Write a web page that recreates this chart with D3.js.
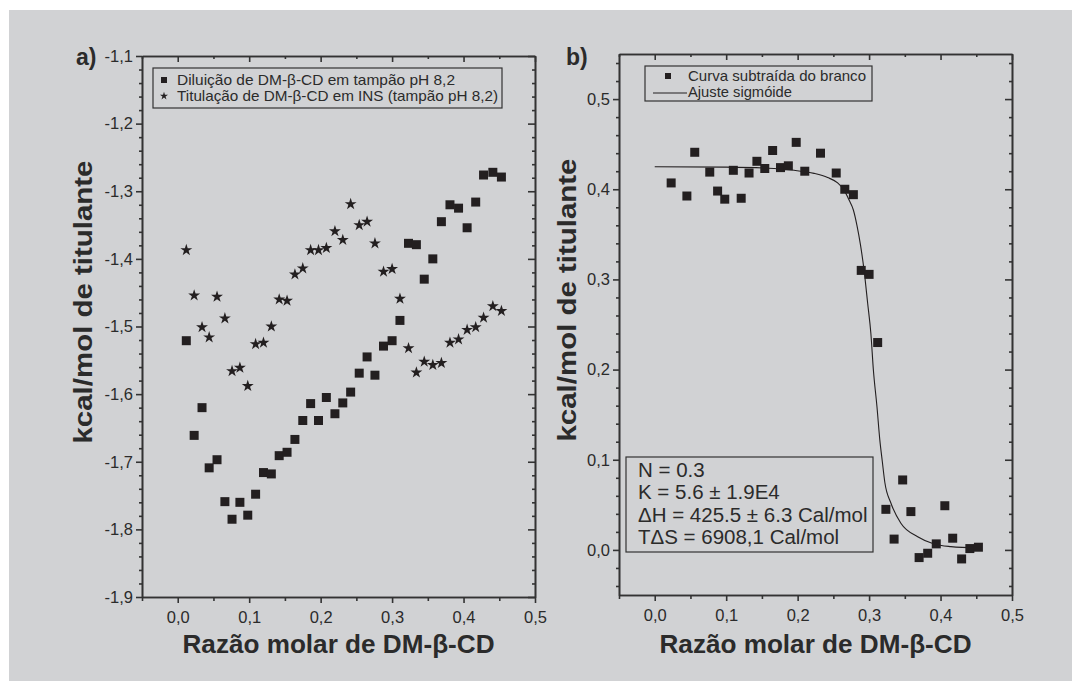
<!DOCTYPE html>
<html>
<head>
<meta charset="utf-8">
<script src="https://cdn.jsdelivr.net/npm/d3@7"></script>
<style>
  body { margin: 0; background: #fff; }
  text { font-family: "Liberation Sans", Arial, sans-serif; fill: #2b2b2b; }
</style>
</head>
<body>
<div id="chart"></div>
<script>
// panel a: razao molar (shared by both series)
var razaoA = [0.012, 0.023, 0.034, 0.044, 0.055, 0.066, 0.076, 0.087, 0.098, 0.109,
  0.120, 0.131, 0.142, 0.153, 0.164, 0.175, 0.186, 0.197, 0.208, 0.220,
  0.231, 0.242, 0.254, 0.265, 0.276, 0.288, 0.300, 0.311, 0.323, 0.334,
  0.345, 0.357, 0.369, 0.381, 0.393, 0.405, 0.417, 0.428, 0.441, 0.453];

var diluicao = [-1.521, -1.661, -1.620, -1.709, -1.697, -1.759, -1.785, -1.760, -1.779, -1.748,
  -1.716, -1.718, -1.691, -1.686, -1.667, -1.639, -1.614, -1.639, -1.605, -1.629,
  -1.613, -1.597, -1.569, -1.545, -1.572, -1.529, -1.521, -1.491, -1.377, -1.379,
  -1.430, -1.400, -1.345, -1.320, -1.325, -1.354, -1.316, -1.276, -1.272, -1.279];

var titulacao = [-1.387, -1.454, -1.501, -1.516, -1.456, -1.488, -1.566, -1.561, -1.588, -1.526,
  -1.524, -1.500, -1.460, -1.462, -1.423, -1.414, -1.387, -1.387, -1.384, -1.359,
  -1.372, -1.319, -1.350, -1.345, -1.377, -1.419, -1.415, -1.459, -1.532, -1.568,
  -1.552, -1.557, -1.554, -1.524, -1.519, -1.505, -1.501, -1.487, -1.470, -1.477];

// panel b
var razaoB = [0.023, 0.045, 0.056, 0.077, 0.088, 0.098, 0.110, 0.121, 0.132, 0.143,
  0.154, 0.165, 0.176, 0.187, 0.198, 0.210, 0.232, 0.254, 0.266, 0.278,
  0.289, 0.300, 0.312, 0.3235, 0.335, 0.347, 0.3585, 0.370, 0.382, 0.394,
  0.406, 0.417, 0.4295, 0.441, 0.453];

var curvaB = [0.407, 0.3925, 0.441, 0.419, 0.398, 0.389, 0.421, 0.390, 0.418, 0.431,
  0.423, 0.443, 0.424, 0.426, 0.452, 0.420, 0.440, 0.418, 0.400, 0.394,
  0.310, 0.3056, 0.230, 0.045, 0.012, 0.0776, 0.0425, -0.0085, -0.0037, 0.0067,
  0.049, 0.013, -0.010, 0.0015, 0.003];

// sigmoid fit
var ajusteX = [0.0, 0.1, 0.167, 0.195, 0.223, 0.242, 0.256, 0.265, 0.272, 0.278,
  0.283, 0.288, 0.293, 0.298, 0.3025, 0.306, 0.311, 0.315, 0.3185, 0.322,
  0.3305, 0.3445, 0.368, 0.391, 0.4145, 0.452];
var ajusteY = [0.425, 0.4245, 0.423, 0.421, 0.4176, 0.413, 0.407, 0.399, 0.388, 0.377,
  0.360, 0.338, 0.310, 0.2735, 0.240, 0.1996, 0.159, 0.122, 0.098, 0.075,
  0.052, 0.0296, 0.0147, 0.0066, 0.0037, 0.0022];

var xTicks = [0, 0.1, 0.2, 0.3, 0.4, 0.5];
var xTickLabels = ['0,0', '0,1', '0,2', '0,3', '0,4', '0,5'];
var yTicksA = [-1.9, -1.8, -1.7, -1.6, -1.5, -1.4, -1.3, -1.2, -1.1];
var yTickLabelsA = ['-1,9', '-1,8', '-1,7', '-1,6', '-1,5', '-1,4', '-1,3', '-1,2', '-1,1'];
var yTicksB = [0, 0.1, 0.2, 0.3, 0.4, 0.5];
var yTickLabelsB = ['0,0', '0,1', '0,2', '0,3', '0,4', '0,5'];

var legendA = ['Diluição  de DM-β-CD em tampão pH 8,2', 'Titulação de DM-β-CD em INS (tampão pH 8,2)'];
var legendB = ['Curva subtraída do branco', 'Ajuste sigmóide'];
var resultados = ['N = 0.3', 'K = 5.6 ± 1.9E4', 'ΔH = 425.5 ± 6.3 Cal/mol', 'TΔS = 6908,1 Cal/mol'];

var W = 1072, H = 681, ink = '#231f20', axisCol = '#333';

var svg = d3.select('#chart').append('svg')
  .attr('width', W).attr('height', H);

svg.append('rect').attr('width', W).attr('height', H).attr('fill', '#fff');
svg.append('rect').attr('x', 9).attr('y', 10).attr('width', W - 9).attr('height', H - 10)
  .attr('fill', '#d1d2d4');

function minorRange(lo, hi, step, majors) {
  return d3.range(Math.round((hi - lo) / step) + 1)
    .map(function (i) { return +(lo + i * step).toFixed(4); })
    .filter(function (v) { return !majors.some(function (m) { return Math.abs(m - v) < 1e-6; }); });
}

function frame(x, y, xMinor, yMinor, yTicks, yLabels) {
  var x0 = x.range()[0], x1 = x.range()[1], y0 = y.range()[0], y1 = y.range()[1];
  var g = svg.append('g');

  function style(sel) {
    sel.selectAll('path, line').attr('stroke', axisCol).attr('stroke-width', 1.6);
    sel.selectAll('text').attr('font-size', 16.5).attr('fill', '#2e2e2e')
      .attr('font-family', '"Liberation Sans", Arial, sans-serif');
  }

  // bottom
  g.append('g').attr('transform', 'translate(0,' + y0 + ')')
    .call(d3.axisBottom(x).tickValues(xTicks).tickSize(6).tickSizeOuter(0).tickPadding(8)
      .tickFormat(function (d, i) { return xTickLabels[i]; }))
    .call(style);
  g.append('g').attr('transform', 'translate(0,' + y0 + ')')
    .call(d3.axisBottom(x).tickValues(xMinor).tickSize(4).tickSizeOuter(0).tickFormat(''))
    .call(style);
  // top, ticks pointing in
  g.append('g').attr('transform', 'translate(0,' + y1 + ')')
    .call(d3.axisBottom(x).tickValues(xTicks).tickSize(6).tickSizeOuter(0).tickFormat(''))
    .call(style);
  g.append('g').attr('transform', 'translate(0,' + y1 + ')')
    .call(d3.axisBottom(x).tickValues(xMinor).tickSize(3).tickSizeOuter(0).tickFormat(''))
    .call(style);
  // left
  g.append('g').attr('transform', 'translate(' + x0 + ',0)')
    .call(d3.axisLeft(y).tickValues(yTicks).tickSize(6).tickSizeOuter(0).tickPadding(3)
      .tickFormat(function (d, i) { return yLabels[i]; }))
    .call(style);
  g.append('g').attr('transform', 'translate(' + x0 + ',0)')
    .call(d3.axisLeft(y).tickValues(yMinor).tickSize(3).tickSizeOuter(0).tickFormat(''))
    .call(style);
  // right, ticks pointing in
  g.append('g').attr('transform', 'translate(' + x1 + ',0)')
    .call(d3.axisLeft(y).tickValues(yTicks).tickSize(7).tickSizeOuter(0).tickFormat(''))
    .call(style);
  g.append('g').attr('transform', 'translate(' + x1 + ',0)')
    .call(d3.axisLeft(y).tickValues(yMinor).tickSize(3).tickSizeOuter(0).tickFormat(''))
    .call(style);
  return g;
}

function axisTitles(cx, cy, tx, ty) {
  svg.append('text').attr('x', cx).attr('y', 653).attr('text-anchor', 'middle')
    .attr('font-size', 25).attr('font-weight', 'bold')
    .attr('textLength', 312).attr('lengthAdjust', 'spacingAndGlyphs')
    .text('Razão molar de DM-β-CD');
  svg.append('text').attr('transform', 'translate(' + tx + ',' + ty + ') rotate(-90)')
    .attr('text-anchor', 'middle').attr('dy', '0.35em')
    .attr('font-size', 26).attr('font-weight', 'bold')
    .attr('textLength', 283).attr('lengthAdjust', 'spacingAndGlyphs')
    .text('kcal/mol de titulante');
}

var square = d3.symbol().type(d3.symbolSquare).size(81);
var star = d3.symbol().type(d3.symbolStar).size(44);

// ---------- panel a ----------
var xA = d3.scaleLinear().domain([-0.05, 0.5]).range([142, 535]);
var yA = d3.scaleLinear().domain([-1.9, -1.1]).range([597, 56]);

frame(xA, yA, minorRange(-0.05, 0.5, 0.05, xTicks), minorRange(-1.9, -1.1, 0.02, yTicksA), yTicksA, yTickLabelsA);

svg.append('g').selectAll('path').data(razaoA).join('path')
  .attr('transform', function (d, i) { return 'translate(' + xA(d) + ',' + yA(diluicao[i]) + ')'; })
  .attr('d', square).attr('fill', ink);

svg.append('g').selectAll('path').data(razaoA).join('path')
  .attr('transform', function (d, i) { return 'translate(' + xA(d) + ',' + yA(titulacao[i]) + ')'; })
  .attr('d', star).attr('fill', ink);

var legA = svg.append('g');
legA.append('rect').attr('x', 153).attr('y', 68).attr('width', 349).attr('height', 40)
  .attr('fill', 'none').attr('stroke', axisCol).attr('stroke-width', 1.2);
legA.append('path').attr('transform', 'translate(164,80)')
  .attr('d', d3.symbol().type(d3.symbolSquare).size(36)).attr('fill', ink);
legA.append('path').attr('transform', 'translate(164,96)')
  .attr('d', d3.symbol().type(d3.symbolStar).size(20)).attr('fill', ink);
legA.selectAll('text').data(legendA).join('text')
  .attr('x', 177).attr('y', function (d, i) { return 85 + i * 15.5; })
  .attr('font-size', 15)
  .attr('textLength', function (d, i) { return i ? 321 : 278; })
  .attr('lengthAdjust', 'spacingAndGlyphs')
  .text(function (d) { return d; });

svg.append('text').attr('x', 76).attr('y', 65).attr('font-size', 23).attr('font-weight', 'bold').text('a)');
axisTitles(338.5, 302, 83, 302);

// ---------- panel b ----------
var xB = d3.scaleLinear().domain([-0.05, 0.5]).range([619, 1012]);
var yB = d3.scaleLinear().domain([-0.05, 0.55]).range([595, 54]);

frame(xB, yB, minorRange(-0.05, 0.5, 0.05, xTicks), minorRange(-0.04, 0.54, 0.02, yTicksB), yTicksB, yTickLabelsB);

svg.append('path')
  .datum(ajusteX)
  .attr('fill', 'none').attr('stroke', ink).attr('stroke-width', 1.1)
  .attr('d', d3.line()
    .x(function (d) { return xB(d); })
    .y(function (d, i) { return yB(ajusteY[i]); })
    .curve(d3.curveMonotoneX));

svg.append('g').selectAll('path').data(razaoB).join('path')
  .attr('transform', function (d, i) { return 'translate(' + xB(d) + ',' + yB(curvaB[i]) + ')'; })
  .attr('d', square).attr('fill', ink);

var legB = svg.append('g');
legB.append('rect').attr('x', 645).attr('y', 66).attr('width', 227).attr('height', 35)
  .attr('fill', 'none').attr('stroke', axisCol).attr('stroke-width', 1.2);
legB.append('path').attr('transform', 'translate(668,76)')
  .attr('d', d3.symbol().type(d3.symbolSquare).size(36)).attr('fill', ink);
legB.append('line').attr('x1', 653).attr('x2', 687).attr('y1', 93).attr('y2', 93)
  .attr('stroke', ink).attr('stroke-width', 1.1);
legB.selectAll('text').data(legendB).join('text')
  .attr('x', 688).attr('y', function (d, i) { return 81 + i * 16; })
  .attr('font-size', 15)
  .attr('textLength', function (d, i) { return i ? 104 : 178; })
  .attr('lengthAdjust', 'spacingAndGlyphs')
  .text(function (d) { return d; });

var box = svg.append('g');
box.append('rect').attr('x', 626).attr('y', 457).attr('width', 247).attr('height', 95)
  .attr('fill', 'none').attr('stroke', axisCol).attr('stroke-width', 1.2);
box.selectAll('text').data(resultados).join('text')
  .attr('x', 638).attr('y', function (d, i) { return 477 + i * 22.4; })
  .attr('font-size', 20.5)
  .text(function (d) { return d; });

svg.append('text').attr('x', 566).attr('y', 65).attr('font-size', 23).attr('font-weight', 'bold').text('b)');
axisTitles(815.5, 300, 567, 300);
</script>
</body>
</html>
